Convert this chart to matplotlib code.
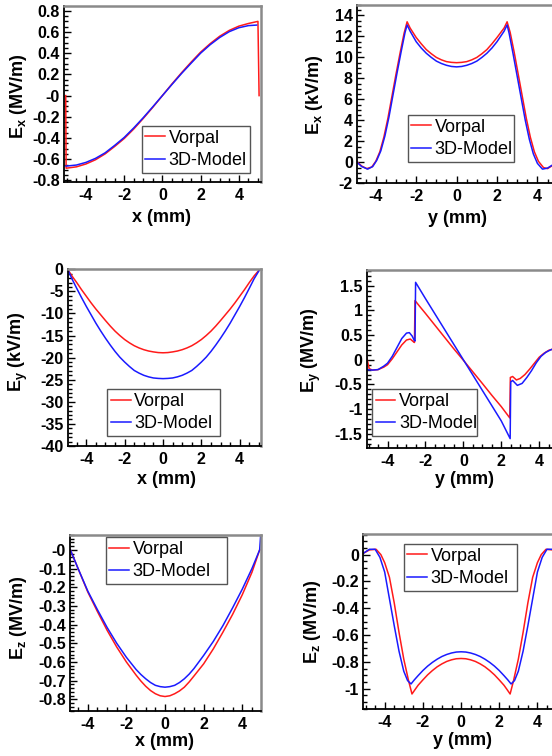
import matplotlib
matplotlib.use('Agg')
import matplotlib.pyplot as plt
from matplotlib.ticker import AutoMinorLocator, FixedLocator, FixedFormatter

plt.rcParams['font.family'] = ['Liberation Sans', 'DejaVu Sans']
plt.rcParams['mathtext.fontset'] = 'custom'
plt.rcParams['mathtext.bf'] = 'Liberation Sans:bold'
plt.rcParams['mathtext.rm'] = 'Liberation Sans:bold'
plt.rcParams['mathtext.it'] = 'Liberation Sans:bold'

# ---------------- data ----------------
series_names = ['Vorpal', '3D-Model']

# Panel 1: Ex vs x (MV/m)
p1_x_vorpal = [-5.06, -5.04, -4.5, -4.0, -3.5, -3.0, -2.5, -2.0, -1.5, -1.0, -0.5, 0.0,
               0.5, 1.0, 1.5, 2.0, 2.5, 3.0, 3.5, 4.0, 4.5, 5.0, 5.06]
p1_y_vorpal = [0.0, -0.685, -0.672, -0.645, -0.605, -0.55, -0.48, -0.405, -0.315, -0.215, -0.11, 0.0,
               0.11, 0.215, 0.315, 0.41, 0.49, 0.56, 0.615, 0.655, 0.68, 0.70, 0.0]
p1_x_model = [-5.04, -4.5, -4.0, -3.5, -3.0, -2.5, -2.0, -1.5, -1.0, -0.5, 0.0,
              0.5, 1.0, 1.5, 2.0, 2.5, 3.0, 3.5, 4.0, 4.5, 4.93]
p1_y_model = [-0.665, -0.655, -0.63, -0.592, -0.54, -0.47, -0.395, -0.305, -0.208, -0.105, 0.0,
              0.105, 0.208, 0.305, 0.4, 0.48, 0.548, 0.603, 0.64, 0.66, 0.665]

# Panel 2: Ex vs y (kV/m)
p2_x_vorpal = [-4.93, -4.7, -4.45, -4.2, -4.0, -3.8, -3.6, -3.4, -3.2, -3.0, -2.8, -2.6, -2.45, -2.3,
               -2.0, -1.75, -1.5, -1.25, -1.0, -0.75, -0.5, -0.25, 0.0, 0.25, 0.5, 0.75, 1.0, 1.25,
               1.5, 1.75, 2.0, 2.35, 2.5, 2.65, 2.85, 3.05, 3.25,
               3.45, 3.65, 3.85, 4.05, 4.3, 4.5, 4.75, 4.95]
p2_y_vorpal = [0.05, -0.35, -0.6, -0.45, 0.1, 1.0, 2.4, 4.2, 6.3, 8.4, 10.4, 12.3, 13.4, 12.8,
               11.9, 11.3, 10.75, 10.35, 10.0, 9.77, 9.6, 9.53, 9.5, 9.53, 9.6, 9.77, 10.0, 10.35,
               10.75, 11.3, 11.9, 12.8, 13.4, 12.4, 10.5, 8.4, 6.3,
               4.2, 2.4, 1.0, 0.1, -0.5, -0.6, -0.3, 0.05]
p2_x_model = [-4.93, -4.7, -4.4, -4.15, -3.95, -3.75, -3.55, -3.35, -3.15, -2.95, -2.75, -2.55, -2.45,
              -2.3, -2.0, -1.75, -1.5, -1.25, -1.0, -0.75, -0.5, -0.25, 0.0, 0.25, 0.5, 0.75, 1.0,
              1.25, 1.5, 1.75, 2.0, 2.35, 2.5, 2.6, 2.8, 3.0, 3.2,
              3.4, 3.6, 3.8, 4.0, 4.25, 4.5, 4.75, 4.95]
p2_y_model = [0.0, -0.4, -0.65, -0.4, 0.2, 1.1, 2.5, 4.3, 6.4, 8.5, 10.5, 12.4, 13.1,
              12.5, 11.5, 10.9, 10.4, 10.0, 9.65, 9.42, 9.25, 9.14, 9.1, 9.14, 9.25, 9.42, 9.65,
              10.0, 10.4, 10.9, 11.5, 12.5, 13.1, 12.3, 10.3, 8.2, 6.1,
              4.0, 2.2, 0.8, -0.1, -0.65, -0.55, -0.25, 0.0]

# Panel 3: Ey vs x (kV/m)
p3_x = [-4.97, -4.75, -4.5, -4.25, -4.0, -3.75, -3.5, -3.25, -3.0, -2.75, -2.5, -2.25, -2.0, -1.75,
        -1.5, -1.25, -1.0, -0.75, -0.5, -0.25, 0.0, 0.25, 0.5, 0.75, 1.0, 1.25, 1.5, 1.75, 2.0,
        2.25, 2.5, 2.75, 3.0, 3.25, 3.5, 3.75, 4.0, 4.25, 4.5, 4.75, 5.05]
p3_y_vorpal = [0.0, -1.5, -3.0, -4.6, -6.1, -7.6, -9.0, -10.3, -11.6, -12.85, -14.0, -15.0, -15.9, -16.65,
               -17.3, -17.8, -18.2, -18.5, -18.7, -18.85, -18.9, -18.85, -18.7, -18.5, -18.2, -17.8, -17.3,
               -16.65, -15.9, -15.0, -14.0, -12.85, -11.6, -10.3, -9.0, -7.6, -6.1, -4.6, -3.0, -1.5, 0.0]
p3_y_model = [0.0, -2.15, -4.3, -6.4, -8.4, -10.3, -12.2, -13.95, -15.6, -17.15, -18.6, -19.9, -21.0, -22.0,
              -22.9, -23.5, -24.0, -24.35, -24.6, -24.7, -24.75, -24.7, -24.6, -24.35, -24.0, -23.5, -22.9,
              -22.0, -21.0, -19.9, -18.6, -17.15, -15.6, -13.95, -12.2, -10.3, -8.4, -6.4, -4.3, -2.15, 0.0]

# Panel 4: Ey vs y (MV/m)
p4_x_vorpal = [-5.1, -4.97, -4.8, -4.5, -4.2, -4.0, -3.75, -3.5, -3.25, -3.0, -2.8, -2.65, -2.58,
               -2.55, -2.3, -2.0, -1.5, -1.0, -0.5, 0.0, 0.5, 1.0, 1.5, 2.0, 2.45, 2.48, 2.6,
               2.8, 3.0, 3.25, 3.5, 3.75, 4.0, 4.25, 4.5, 4.75, 5.1]
p4_y_vorpal = [0.05, -0.18, -0.21, -0.2, -0.15, -0.1, 0.02, 0.16, 0.3, 0.4, 0.42, 0.37, 0.35,
               1.2, 1.08, 0.94, 0.70, 0.46, 0.22, -0.01, -0.245, -0.48, -0.72, -0.95, -1.18, -0.36, -0.34,
               -0.41, -0.38, -0.3, -0.19, -0.07, 0.05, 0.13, 0.19, 0.22, 0.22]
p4_x_model = [-5.1, -4.8, -4.5, -4.2, -4.0, -3.75, -3.5, -3.25, -3.0, -2.85, -2.7, -2.6, -2.55,
              -2.52, -2.3, -2.0, -1.5, -1.0, -0.5, 0.0, 0.5, 1.0, 1.5, 2.0, 2.47, 2.5, 2.6,
              2.85, 3.1, 3.35, 3.6, 3.85, 4.1, 4.35, 4.6, 4.85, 5.1]
p4_y_model = [-0.2, -0.21, -0.2, -0.13, -0.07, 0.07, 0.25, 0.43, 0.54, 0.55, 0.48, 0.4, 0.38,
              1.57, 1.43, 1.24, 0.93, 0.62, 0.31, 0.0, -0.31, -0.62, -0.93, -1.24, -1.6, -0.45, -0.42,
              -0.52, -0.48, -0.36, -0.22, -0.06, 0.07, 0.15, 0.2, 0.23, 0.23]

# Panel 5: Ez vs x (MV/m)
p5_x_vorpal = [-4.9, -4.5, -4.0, -3.5, -3.0, -2.5, -2.0, -1.5, -1.25, -1.0, -0.75, -0.5, -0.25, 0.0,
               0.25, 0.5, 0.75, 1.0, 1.25, 1.5, 2.0, 2.5, 3.0, 3.5, 4.0, 4.5, 4.9]
p5_y_vorpal = [0.0, -0.1, -0.225, -0.33, -0.43, -0.52, -0.6, -0.67, -0.702, -0.73, -0.753, -0.77, -0.781,
               -0.785, -0.781, -0.77, -0.755, -0.735, -0.707, -0.675, -0.61, -0.53, -0.44, -0.345, -0.24,
               -0.12, 0.0]
p5_x_model = [-4.9, -4.5, -4.0, -3.5, -3.0, -2.5, -2.0, -1.5, -1.25, -1.0, -0.75, -0.5, -0.25, 0.0,
              0.25, 0.5, 0.75, 1.0, 1.25, 1.5, 2.0, 2.5, 3.0, 3.5, 4.0, 4.5, 4.9, 4.96]
p5_y_model = [0.0, -0.1, -0.22, -0.32, -0.415, -0.5, -0.575, -0.64, -0.667, -0.69, -0.71, -0.725, -0.732,
              -0.735, -0.732, -0.725, -0.71, -0.69, -0.665, -0.635, -0.565, -0.49, -0.405, -0.31, -0.21,
              -0.1, 0.0, 0.09]

# Panel 6: Ez vs y (MV/m)
p6_x_vorpal = [-5.12, -4.8, -4.45, -4.2, -4.0, -3.75, -3.5, -3.25, -3.0, -2.75, -2.57, -2.4, -2.25, -2.0,
               -1.75, -1.5, -1.25, -1.0, -0.75, -0.5, -0.25, 0.0, 0.25, 0.5, 0.75, 1.0, 1.25, 1.5, 1.75,
               2.0, 2.25, 2.4, 2.57, 2.75, 3.0, 3.25, 3.5, 3.75, 4.0, 4.2, 4.45, 4.8, 5.12]
p6_y_vorpal = [0.01, 0.035, 0.04, 0.0, -0.06, -0.17, -0.36, -0.58, -0.78, -0.94, -1.04, -1.005, -0.975,
               -0.935, -0.897, -0.865, -0.837, -0.815, -0.797, -0.785, -0.777, -0.775, -0.777, -0.785,
               -0.797, -0.815, -0.837, -0.865, -0.897, -0.935, -0.975, -1.005, -1.04, -0.94, -0.78,
               -0.58, -0.36, -0.17, -0.06, 0.0, 0.04, 0.035, 0.01]
p6_x_model = [-5.12, -4.8, -4.5, -4.25, -4.0, -3.75, -3.5, -3.25, -3.0, -2.8, -2.62, -2.45, -2.25, -2.0,
              -1.75, -1.5, -1.25, -1.0, -0.75, -0.5, -0.25, 0.0, 0.25, 0.5, 0.75, 1.0, 1.25, 1.5, 1.75,
              2.0, 2.25, 2.45, 2.62, 2.8, 3.0, 3.25, 3.5, 3.75, 4.0, 4.25, 4.5, 4.8, 5.12]
p6_y_model = [0.01, 0.04, 0.04, -0.02, -0.13, -0.33, -0.53, -0.72, -0.87, -0.94, -0.965, -0.935, -0.903,
              -0.865, -0.832, -0.804, -0.78, -0.76, -0.745, -0.734, -0.727, -0.725, -0.727, -0.734,
              -0.745, -0.76, -0.78, -0.804, -0.832, -0.865, -0.903, -0.935, -0.965, -0.94, -0.87,
              -0.72, -0.53, -0.33, -0.13, -0.02, 0.04, 0.04, 0.01]

x_ticks = [-4, -2, 0, 2, 4]
x_tick_labels = ['-4', '-2', '0', '2', '4']
p1_yticks = [-0.8, -0.6, -0.4, -0.2, 0.0, 0.2, 0.4, 0.6, 0.8]
p1_ylabels = ['-0.8', '-0.6', '-0.4', '-0.2', '-0', '0.2', '0.4', '0.6', '0.8']
p2_yticks = [-2, 0, 2, 4, 6, 8, 10, 12, 14]
p2_ylabels = ['-2', '0', '2', '4', '6', '8', '10', '12', '14']
p3_yticks = [-40, -35, -30, -25, -20, -15, -10, -5, 0]
p3_ylabels = ['-40', '-35', '-30', '-25', '-20', '-15', '-10', '-5', '0']
p4_yticks = [-1.5, -1.0, -0.5, 0.0, 0.5, 1.0, 1.5]
p4_ylabels = ['-1.5', '-1', '-0.5', '0', '0.5', '1', '1.5']
p5_yticks = [-0.8, -0.7, -0.6, -0.5, -0.4, -0.3, -0.2, -0.1, 0.0]
p5_ylabels = ['-0.8', '-0.7', '-0.6', '-0.5', '-0.4', '-0.3', '-0.2', '-0.1', '-0']
p6_yticks = [-1.0, -0.8, -0.6, -0.4, -0.2, 0.0]
p6_ylabels = ['-1', '-0.8', '-0.6', '-0.4', '-0.2', '0']

# ---------------- layout / style ----------------
W, H = 552, 756
fig = plt.figure(figsize=(W / 100, H / 100), dpi=100)

RED = '#ff1a1a'
BLUE = '#1a1aff'

panels = [
    dict(pos=(64, 6, 261, 182), xlim=(-5.15, 5.16), ylim=(-0.815, 0.845),
         xv=p1_x_vorpal, yv=p1_y_vorpal, xm=p1_x_model, ym=p1_y_model,
         yt=p1_yticks, ytl=p1_ylabels, yminor=4,
         xlabel='x (mm)', ylabel=r'E$_{\mathbf{x}}$ (MV/m)',
         xlc=(0.497, -0.2045), ylc=(-0.2335, 0.485), leg=(141.7, 126, 108.3)),
    dict(pos=(357, 5, 556.6, 183.3), xlim=(-4.93, 4.95), ylim=(-2, 15),
         xv=p2_x_vorpal, yv=p2_y_vorpal, xm=p2_x_model, ym=p2_y_model,
         yt=p2_yticks, ytl=p2_ylabels, yminor=4,
         xlabel='y (mm)', ylabel=r'E$_{\mathbf{x}}$ (kV/m)',
         xlc=(0.504, -0.196), ylc=(-0.215, 0.5), leg=(407.7, 115, 106.6)),
    dict(pos=(67.7, 269.3, 261, 446), xlim=(-4.97, 5.11), ylim=(-40, 0),
         xv=p3_x, yv=p3_y_vorpal, xm=p3_x, ym=p3_y_model,
         yt=p3_yticks, ytl=p3_ylabels, yminor=5,
         xlabel='x (mm)', ylabel=r'E$_{\mathbf{y}}$ (kV/m)',
         xlc=(0.512, -0.189), ylc=(-0.257, 0.533), leg=(107.3, 389.3, 112.7)),
    dict(pos=(366.7, 270, 560, 448), xlim=(-5.1, 5.1), ylim=(-1.79, 1.82),
         xv=p4_x_vorpal, yv=p4_y_vorpal, xm=p4_x_model, ym=p4_y_model,
         yt=p4_yticks, ytl=p4_ylabels, yminor=5,
         xlabel='y (mm)', ylabel=r'E$_{\mathbf{y}}$ (MV/m)',
         xlc=(0.505, -0.178), ylc=(-0.288, 0.55), leg=(372, 389.3, 105)),
    dict(pos=(70, 535, 261, 711), xlim=(-4.92, 4.97), ylim=(-0.8625, 0.08),
         xv=p5_x_vorpal, yv=p5_y_vorpal, xm=p5_x_model, ym=p5_y_model,
         yt=p5_yticks, ytl=p5_ylabels, yminor=5,
         xlabel='x (mm)', ylabel=r'E$_{\mathbf{z}}$ (MV/m)',
         xlc=(0.497, -0.172), ylc=(-0.272, 0.532), leg=(105.7, 537.3, 121)),
    dict(pos=(363.3, 534, 558.8, 709), xlim=(-5.12, 5.12), ylim=(-1.152, 0.154),
         xv=p6_x_vorpal, yv=p6_y_vorpal, xm=p6_x_model, ym=p6_y_model,
         yt=p6_yticks, ytl=p6_ylabels, yminor=4,
         xlabel='y (mm)', ylabel=r'E$_{\mathbf{z}}$ (MV/m)',
         xlc=(0.505, -0.182), ylc=(-0.259, 0.5), leg=(403.7, 544, 113)),
]

for p in panels:
    l, t, r, b = p['pos']
    ax = fig.add_axes([l / W, 1 - b / H, (r - l) / W, (b - t) / H])
    ax.plot(p['xv'], p['yv'], color=RED, lw=1.1, label=series_names[0])
    ax.plot(p['xm'], p['ym'], color=BLUE, lw=1.1, label=series_names[1])
    ax.set_xlim(*p['xlim'])
    ax.set_ylim(*p['ylim'])
    ax.xaxis.set_major_locator(FixedLocator(x_ticks))
    ax.xaxis.set_major_formatter(FixedFormatter(x_tick_labels))
    ax.yaxis.set_major_locator(FixedLocator(p['yt']))
    ax.yaxis.set_major_formatter(FixedFormatter(p['ytl']))
    ax.xaxis.set_minor_locator(AutoMinorLocator(4))
    ax.yaxis.set_minor_locator(AutoMinorLocator(p['yminor']))
    ax.tick_params(which='both', direction='in', top=False, right=False, color='black', width=1.0)
    ax.tick_params(which='major', length=5)
    ax.tick_params(which='minor', length=2.6)
    ax.tick_params(axis='x', pad=4)
    ax.tick_params(axis='y', pad=3)
    for lab in ax.get_xticklabels() + ax.get_yticklabels():
        lab.set_fontsize(11.5)
        lab.set_fontweight('bold')
    for s in ('left', 'bottom'):
        ax.spines[s].set_color('black')
        ax.spines[s].set_linewidth(1.3)
    for s in ('top', 'right'):
        ax.spines[s].set_color('#8a8a8a')
        ax.spines[s].set_linewidth(1.8)
    ax.set_xlabel(p['xlabel'], fontsize=13, fontweight='bold', va='center')
    ax.set_ylabel(p['ylabel'], fontsize=13, fontweight='bold', va='center')
    ax.xaxis.set_label_coords(*p['xlc'])
    ax.yaxis.set_label_coords(*p['ylc'])
    lx, ly, lw_ = p['leg']
    leg = ax.legend(loc='upper left', bbox_to_anchor=(lx / W, 1 - ly / H - 0.05, lw_ / W, 0.05),
                    bbox_transform=fig.transFigure, mode='expand', borderaxespad=0,
                    fontsize=13, frameon=True, fancybox=False, handlelength=1.1,
                    handletextpad=0.2, borderpad=0.2, labelspacing=0.3)
    leg.get_frame().set_edgecolor('#555555')
    leg.get_frame().set_linewidth(1.0)
    leg.get_frame().set_alpha(1.0)

fig.savefig('out.png', dpi=100)
